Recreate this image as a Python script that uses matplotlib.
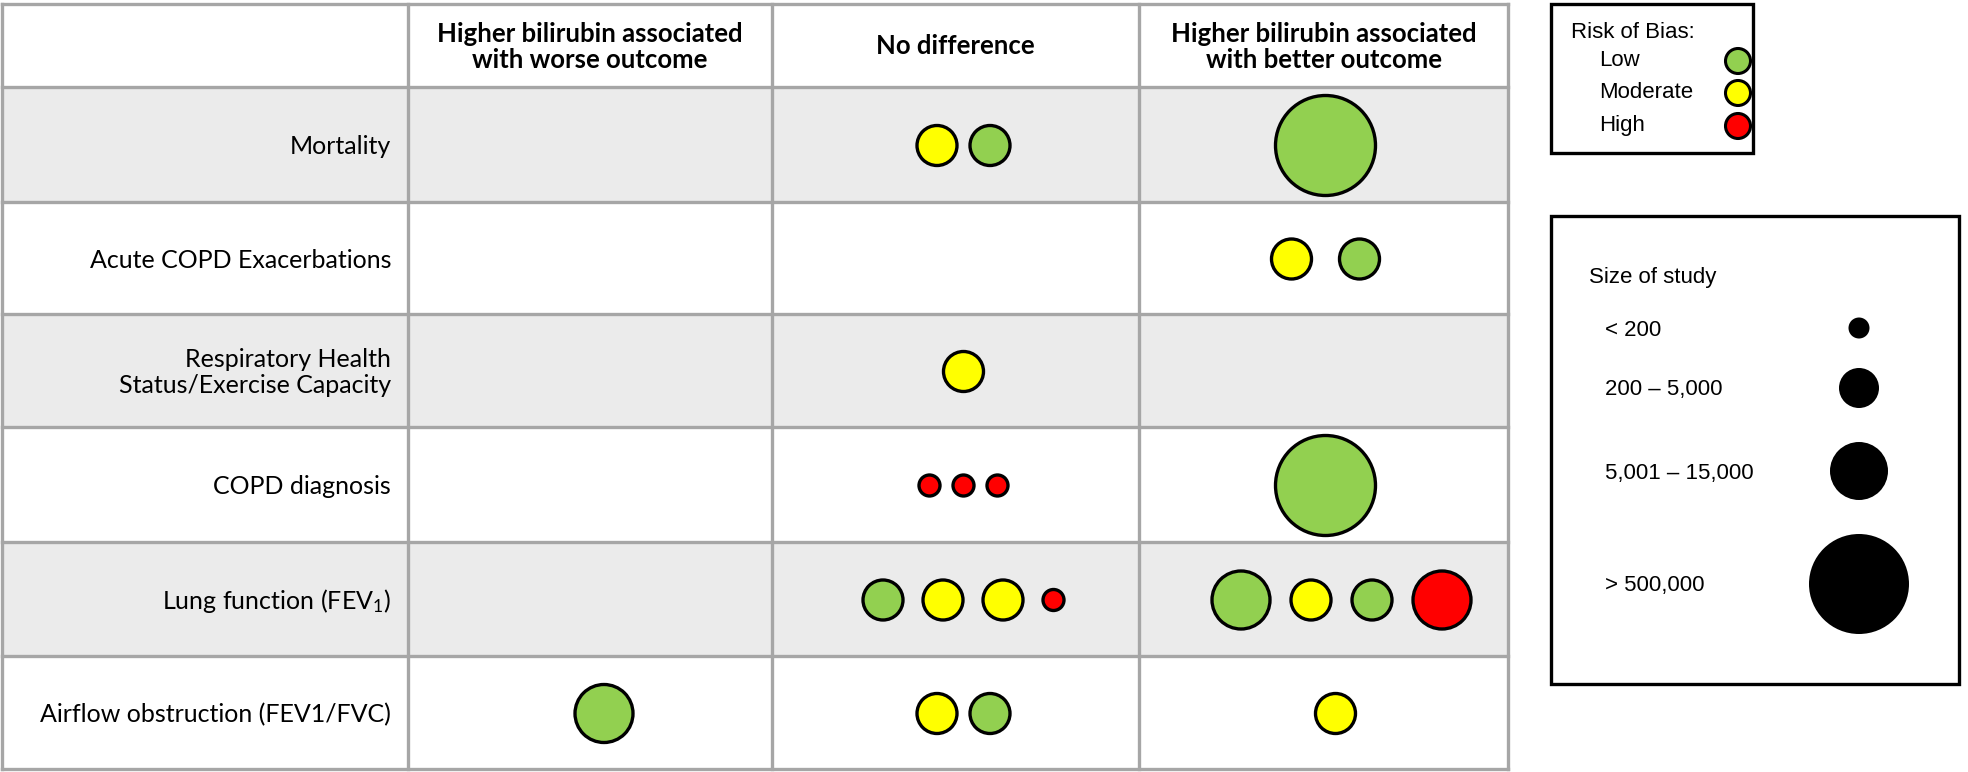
import matplotlib
matplotlib.use("Agg")
import matplotlib.pyplot as plt
from matplotlib.patches import Circle, Rectangle

# ---------------- data ----------------
outcomes = ["Mortality", "Acute COPD Exacerbations",
            "Respiratory Health\nStatus/Exercise Capacity", "COPD diagnosis",
            "Lung function (FEV$_1$)", "Airflow obstruction (FEV1/FVC)"]
columns = ["Higher bilirubin associated\nwith worse outcome", "No difference",
           "Higher bilirubin associated\nwith better outcome"]

risk_labels = ["Low", "Moderate", "High"]
risk_colors = ["#92D050", "#FFFF00", "#FF0000"]
size_labels = ["< 200", "200 \u2013 5,000", "5,001 \u2013 15,000", "> 500,000"]

# one entry per study
study_outcome = [0, 0, 0, 1, 1, 2, 3, 3, 3, 3, 4, 4, 4, 4, 4, 4, 4, 4, 5, 5, 5, 5]
study_column  = [1, 1, 2, 2, 2, 1, 1, 1, 1, 2, 1, 1, 1, 1, 2, 2, 2, 2, 0, 1, 1, 2]
study_risk    = [1, 0, 0, 1, 0, 1, 2, 2, 2, 0, 0, 1, 1, 2, 0, 1, 0, 2, 0, 1, 0, 1]
study_size    = [1, 1, 3, 1, 1, 1, 0, 0, 0, 3, 1, 1, 1, 0, 2, 1, 1, 2, 2, 1, 1, 1]

# ---------------- layout (pixels) ----------------
W, H = 1968, 772
col_edges = [2, 408, 772, 1139, 1508]
row_edges = [4, 87, 202, 314, 427, 542, 656, 769]
radii = [10.5, 20, 29, 50]
default_gap = 13
cell_gap = {(1, 2): 28, (4, 1): 20, (4, 2): 21}
col_shift = [14, 8, 2]
cell_shift = {(4, 2): 16, (5, 2): 10}
grid_color = "#A6A6A6"
shade = "#EBEBEB"

fig = plt.figure(figsize=(W / 100, H / 100), dpi=100)
ax = fig.add_axes([0, 0, 1, 1])
ax.set_xlim(0, W)
ax.set_ylim(H, 0)
ax.axis("off")

table_font = "Lato"
plt.rcParams["mathtext.fontset"] = "custom"
plt.rcParams["mathtext.rm"] = table_font
plt.rcParams["mathtext.it"] = table_font

# row shading
for i in range(len(outcomes)):
    if i % 2 == 0:
        ax.add_patch(Rectangle((col_edges[0], row_edges[i + 1]),
                               col_edges[-1] - col_edges[0],
                               row_edges[i + 2] - row_edges[i + 1],
                               facecolor=shade, edgecolor="none", zorder=0))

# grid lines
for x in col_edges:
    ax.plot([x, x], [row_edges[0], row_edges[-1]], color=grid_color, lw=2.4,
            solid_capstyle="projecting", zorder=1)
for y in row_edges:
    ax.plot([col_edges[0], col_edges[-1]], [y, y], color=grid_color, lw=2.4,
            solid_capstyle="projecting", zorder=1)

# header text
for j, name in enumerate(columns):
    cx = (col_edges[j + 1] + col_edges[j + 2]) / 2
    cy = (row_edges[0] + row_edges[1]) / 2 + 1
    ax.text(cx, cy, name, ha="center", va="center", fontsize=18.5,
            fontweight="bold", family=table_font, linespacing=1.1, zorder=3)

# row labels
for i, name in enumerate(outcomes):
    cy = (row_edges[i + 1] + row_edges[i + 2]) / 2 + 2
    ax.text(391, cy, name, ha="right", va="center", fontsize=18,
            family=table_font, linespacing=1.2, zorder=3)

# bubbles
cells = {}
for k in range(len(study_outcome)):
    cells.setdefault((study_outcome[k], study_column[k]), []).append(k)
for (i, j), ks in cells.items():
    gap = cell_gap.get((i, j), default_gap)
    widths = [2 * radii[study_size[k]] for k in ks]
    total = sum(widths) + gap * (len(ks) - 1)
    cx = (col_edges[j + 1] + col_edges[j + 2]) / 2 + col_shift[j] + cell_shift.get((i, j), 0)
    x0 = cx - total / 2
    cy = (row_edges[i + 1] + row_edges[i + 2]) / 2 + 1
    for k, w in zip(ks, widths):
        ax.add_patch(Circle((x0 + w / 2, cy), radii[study_size[k]],
                            facecolor=risk_colors[study_risk[k]],
                            edgecolor="black", lw=2.4, zorder=4))
        x0 += w + gap

# ---------------- legends ----------------
leg_font = "Liberation Sans"
# risk of bias box
ax.add_patch(Rectangle((1551, 4), 1753 - 1551, 153 - 4, facecolor="white",
                       edgecolor="black", lw=2.4, zorder=2))
ax.text(1571, 33, "Risk of Bias:", ha="left", va="center", fontsize=16,
        family=leg_font, zorder=3)
risk_y = [61, 93, 126]
for r, (lab, col) in enumerate(zip(risk_labels, risk_colors)):
    ax.text(1599, risk_y[r], lab, ha="left", va="center", fontsize=16,
            family=leg_font, zorder=3)
    ax.add_patch(Circle((1738, risk_y[r]), 12.5, facecolor=col,
                        edgecolor="black", lw=2.2, zorder=4))

# size of study box
ax.add_patch(Rectangle((1551, 216), 1959 - 1551, 684 - 216, facecolor="white",
                       edgecolor="black", lw=2.4, zorder=2))
ax.text(1589, 277, "Size of study", ha="left", va="center", fontsize=16,
        family=leg_font, zorder=3)
size_y = [330, 390, 473, 586]
for s, lab in enumerate(size_labels):
    ax.text(1605, size_y[s], lab, ha="left", va="center", fontsize=16,
            family=leg_font, zorder=3)
    ax.add_patch(Circle((1859, size_y[s] - 2), radii[s], facecolor="black",
                        edgecolor="none", zorder=4))

fig.savefig("out.png", dpi=100, facecolor="white")
